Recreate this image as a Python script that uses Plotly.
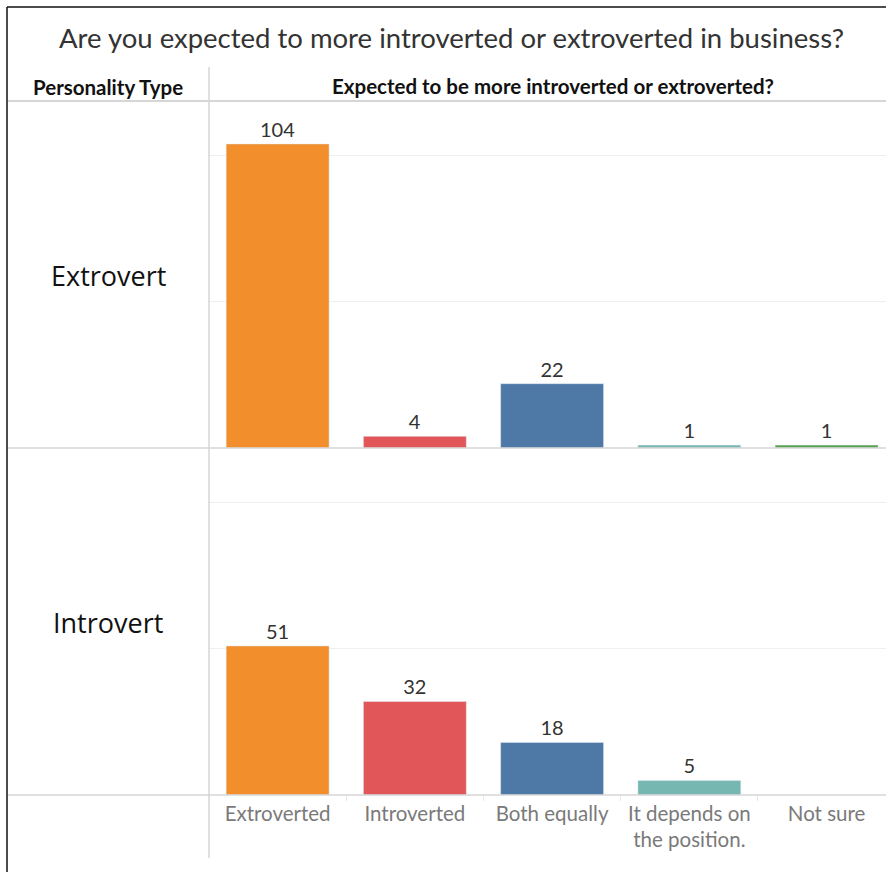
import plotly.graph_objects as go

W, H = 886, 872

categories = ["Extroverted", "Introverted", "Both equally", "It depends on the position.", "Not sure"]
tick_labels = ["Extroverted", "Introverted", "Both equally", "It depends on<br>the position.", "Not sure"]
extrovert_values = [104, 4, 22, 1, 1]
introvert_values = [51, 32, 18, 5, None]
colors = ["#F28E2B", "#E15759", "#4E79A7", "#76B7B2", "#59A14F"]
row_labels = ["Extrovert", "Introvert"]
title = "Are you expected to more introverted or extroverted in business?"
col_header = "Expected to be more introverted or extroverted?"
row_header = "Personality Type"

def px_x(x):
    return x / W

def px_y(y):
    return 1 - y / H

fig = go.Figure()

def lab(vals):
    return [("" if v is None else str(v)) for v in vals]

label_font = dict(size=20, color="#333333", family="Lato")

fig.add_trace(go.Bar(
    x=categories, y=extrovert_values, marker_color=colors, width=0.75,
    text=lab(extrovert_values), textposition="outside", cliponaxis=False,
    textfont=label_font,
    xaxis="x", yaxis="y", showlegend=False, hoverinfo="x+y",
))
fig.add_trace(go.Bar(
    x=categories, y=introvert_values, marker_color=colors, width=0.75,
    text=lab(introvert_values), textposition="outside", cliponaxis=False,
    textfont=label_font,
    xaxis="x2", yaxis="y2", showlegend=False, hoverinfo="x+y",
))

yrange = [0, 118.7]
xrange = [-0.5, 4.433]
grid = "#EFEFEF"

fig.update_layout(
    width=W, height=H,
    margin=dict(l=0, r=0, t=0, b=0),
    paper_bgcolor="white", plot_bgcolor="white",
    font=dict(family="Lato", color="#333333"),
    xaxis=dict(domain=[px_x(209), 1], range=xrange, anchor="y",
               showticklabels=False, showgrid=False, zeroline=False,
               categoryorder="array", categoryarray=categories),
    yaxis=dict(domain=[px_y(448), px_y(101)], range=yrange, anchor="x",
               tickvals=[50, 100], showticklabels=False, showgrid=True,
               gridcolor=grid, gridwidth=1, zeroline=False),
    xaxis2=dict(domain=[px_x(209), 1], range=xrange, anchor="y2",
                tickvals=categories, ticktext=tick_labels,
                tickfont=dict(size=20.5, color="#7A7A7A", family="Lato"),
                ticks="outside", tickson="boundaries", ticklen=5, tickcolor="#E8E8E8",
                ticklabelstandoff=4,
                showgrid=False, zeroline=False,
                categoryorder="array", categoryarray=categories),
    yaxis2=dict(domain=[px_y(795), px_y(448)], range=yrange, anchor="x2",
                tickvals=[50, 100], showticklabels=False, showgrid=True,
                gridcolor=grid, gridwidth=1, zeroline=False),
)

line_c = "#D6D6D6"
shapes = [
    # frame (top and left)
    dict(type="line", xref="paper", yref="paper", x0=px_x(7), x1=1, y0=px_y(7), y1=px_y(7),
         line=dict(color="#111111", width=1.5)),
    dict(type="line", xref="paper", yref="paper", x0=px_x(7), x1=px_x(7), y0=px_y(7), y1=0,
         line=dict(color="#111111", width=1.5)),
    # header separator
    dict(type="line", xref="paper", yref="paper", x0=px_x(8), x1=1, y0=px_y(101), y1=px_y(101),
         line=dict(color=line_c, width=2)),
    # panel separators
    dict(type="line", xref="paper", yref="paper", x0=px_x(8), x1=1, y0=px_y(448), y1=px_y(448),
         line=dict(color=line_c, width=1.5)),
    dict(type="line", xref="paper", yref="paper", x0=px_x(8), x1=1, y0=px_y(795), y1=px_y(795),
         line=dict(color=line_c, width=1.5)),
    # vertical row-header divider
    dict(type="line", xref="paper", yref="paper", x0=px_x(209), x1=px_x(209), y0=px_y(67), y1=px_y(858),
         line=dict(color=line_c, width=1.5)),
]
fig.update_layout(shapes=shapes)

annotations = [
    dict(text=title, xref="paper", yref="paper", x=px_x(452), y=px_y(37),
         xanchor="center", yanchor="middle", showarrow=False,
         font=dict(size=27.5, color="#333333", family="Lato")),
    dict(text="<b>" + row_header + "</b>", xref="paper", yref="paper", x=px_x(108), y=px_y(87),
         xanchor="center", yanchor="middle", showarrow=False,
         font=dict(size=20.5, color="#111111", family="Lato")),
    dict(text="<b>" + col_header + "</b>", xref="paper", yref="paper", x=px_x(553), y=px_y(86),
         xanchor="center", yanchor="middle", showarrow=False,
         font=dict(size=20.5, color="#111111", family="Lato")),
    dict(text=row_labels[0], xref="paper", yref="paper", x=px_x(108), y=px_y(275),
         xanchor="center", yanchor="middle", showarrow=False,
         font=dict(size=27, color="#111111", family="Open Sans")),
    dict(text=row_labels[1], xref="paper", yref="paper", x=px_x(108), y=px_y(622),
         xanchor="center", yanchor="middle", showarrow=False,
         font=dict(size=27, color="#111111", family="Open Sans")),
]
fig.update_layout(annotations=annotations)

fig.write_html("out.html", config={"displayModeBar": False},
               post_script="document.body.style.margin='0px';")
